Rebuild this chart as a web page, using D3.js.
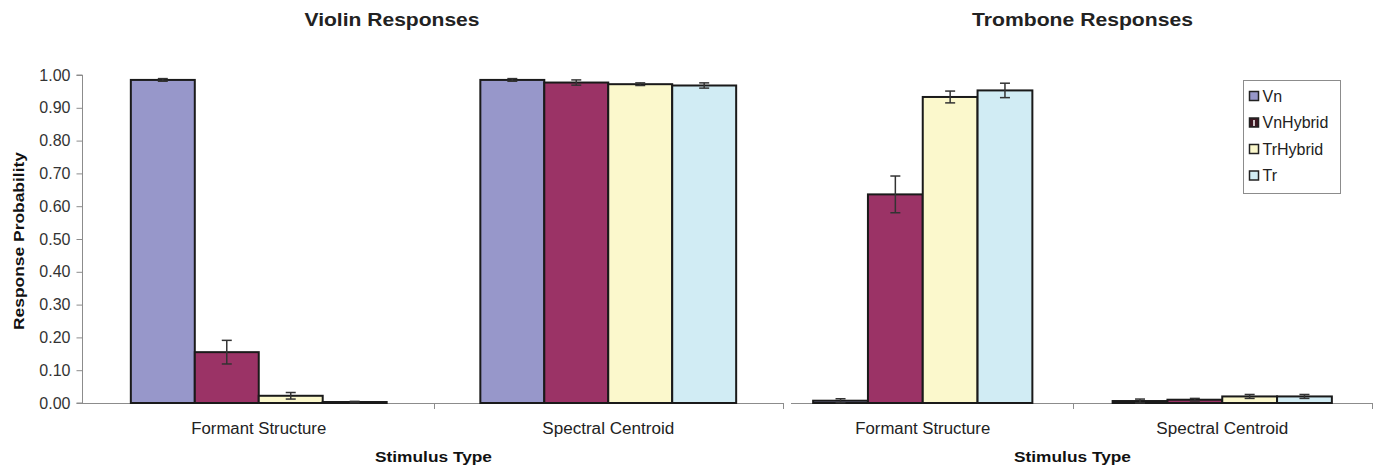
<!DOCTYPE html>
<html>
<head>
<meta charset="utf-8">
<script src="https://cdn.jsdelivr.net/npm/d3@7"></script>
<style>
  html, body { margin: 0; padding: 0; background: #fff; }
  svg { display: block; font-family: "Liberation Sans", Arial, sans-serif; }
</style>
</head>
<body>
<svg id="chart" width="1375" height="467"></svg>
<script>
// Stimulus categories and response series
const categories = ["Formant Structure", "Spectral Centroid"];
const seriesNames = ["Vn", "VnHybrid", "TrHybrid", "Tr"];
const seriesColors = ["#9797ca", "#9b3366", "#fbf8cc", "#d1ecf4"];
const yTicks = [0, 0.1, 0.2, 0.3, 0.4, 0.5, 0.6, 0.7, 0.8, 0.9, 1.0];

// Violin responses: mean response probability per category, per series
const violinValues = [
  [0.985, 0.155, 0.022, 0.003],
  [0.985, 0.977, 0.972, 0.968]
];
const violinErrors = [
  [0.004, 0.036, 0.010, 0.002],
  [0.004, 0.008, 0.004, 0.008]
];

// Trombone responses
const tromboneValues = [
  [0.007, 0.636, 0.933, 0.953],
  [0.006, 0.010, 0.020, 0.020]
];
const tromboneErrors = [
  [0.006, 0.056, 0.018, 0.022],
  [0.006, 0.004, 0.006, 0.006]
];

const svg = d3.select("#chart");

const y = d3.scaleLinear().domain([0, 1]).range([403, 75]);

// label widths of the stretched chart lettering
const catLabelWidth = { "Formant Structure": 135, "Spectral Centroid": 132 };

function drawPanel(opts) {
  const g = svg.append("g");
  const x0 = d3.scaleBand().domain(categories).range(opts.range).paddingInner(0).paddingOuter(0);
  const bw = x0.bandwidth();
  const frac = 0.732;
  const x1 = d3.scaleBand().domain(seriesNames)
    .range([bw * (1 - frac) / 2, bw * (1 + frac) / 2]).padding(0);

  // category axis
  g.append("line")
    .attr("x1", opts.axisStart).attr("x2", opts.range[1])
    .attr("y1", y(0) + 0.5).attr("y2", y(0) + 0.5)
    .attr("stroke", "#8c8c8c").attr("stroke-width", 1);
  const bounds = [];
  categories.forEach((c, i) => { if (i > 0) bounds.push(x0(c)); });
  bounds.push(opts.range[1]);
  g.selectAll(".xt").data(bounds).join("line")
    .attr("x1", d => Math.round(d) + 0.5).attr("x2", d => Math.round(d) + 0.5)
    .attr("y1", y(0)).attr("y2", y(0) + 6)
    .attr("stroke", "#8c8c8c");

  g.selectAll(".cat").data(categories).join("text")
    .attr("x", d => x0(d) + bw / 2 - catLabelWidth[d] / 2)
    .attr("y", 434)
    .attr("font-size", 16)
    .attr("textLength", d => catLabelWidth[d])
    .attr("lengthAdjust", "spacingAndGlyphs")
    .attr("fill", "#222")
    .text(d => d);

  // bars
  const groups = g.selectAll(".grp").data(categories).join("g")
    .attr("transform", d => `translate(${x0(d)},0)`);
  groups.each(function(cat, ci) {
    const gg = d3.select(this);
    const rows = seriesNames.map((s, si) => ({
      s, si, v: opts.values[ci][si], e: opts.errors[ci][si]
    }));
    gg.selectAll("rect").data(rows).join("rect")
      .attr("x", d => x1(d.s))
      .attr("y", d => y(d.v))
      .attr("width", x1.bandwidth())
      .attr("height", d => y(0) - y(d.v))
      .attr("fill", d => seriesColors[d.si])
      .attr("stroke", "#1a1a1a")
      .attr("stroke-width", 2);
    // error bars
    const eb = gg.selectAll(".eb").data(rows).join("g");
    const cx = d => x1(d.s) + x1.bandwidth() / 2;
    eb.append("line")
      .attr("x1", cx).attr("x2", cx)
      .attr("y1", d => y(d.v + d.e)).attr("y2", d => y(Math.max(0, d.v - d.e)))
      .attr("stroke", "#333").attr("stroke-width", 1.5);
    eb.append("line")
      .attr("x1", d => cx(d) - 5).attr("x2", d => cx(d) + 5)
      .attr("y1", d => y(d.v + d.e)).attr("y2", d => y(d.v + d.e))
      .attr("stroke", "#333").attr("stroke-width", 1.5);
    eb.append("line")
      .attr("x1", d => cx(d) - 5).attr("x2", d => cx(d) + 5)
      .attr("y1", d => y(Math.max(0, d.v - d.e))).attr("y2", d => y(Math.max(0, d.v - d.e)))
      .attr("stroke", "#333").attr("stroke-width", 1.5);
  });

  // panel title and x-axis title
  svg.append("text")
    .attr("x", opts.titleX - opts.titleW / 2).attr("y", 26)
    .attr("textLength", opts.titleW).attr("lengthAdjust", "spacingAndGlyphs")
    .attr("font-size", 18).attr("font-weight", "bold").attr("fill", "#222")
    .text(opts.title);
  const xCenter = (opts.range[0] + opts.range[1]) / 2;
  svg.append("text")
    .attr("x", xCenter - 58.5).attr("y", 462)
    .attr("textLength", 117).attr("lengthAdjust", "spacingAndGlyphs")
    .attr("font-size", 15).attr("font-weight", "bold").attr("fill", "#111")
    .text("Stimulus Type");
}

// Left value axis
const yAxis = d3.axisLeft(y).tickValues(yTicks).tickFormat(d3.format(".2f")).tickSize(6).tickPadding(6);
const ya = svg.append("g").attr("transform", "translate(82.5,0)").call(yAxis);
ya.select(".domain").attr("stroke", "#8c8c8c").attr("d", `M-6,${y(0)}H0V${y(1)}H-6`);
ya.selectAll(".tick line").attr("stroke", "#8c8c8c");
ya.selectAll(".tick text")
  .attr("font-size", 16).attr("fill", "#333")
  .attr("font-family", "Liberation Sans, Arial, sans-serif");

svg.append("text")
  .attr("transform", "translate(24,241) rotate(-90)")
  .attr("x", -89)
  .attr("textLength", 178).attr("lengthAdjust", "spacingAndGlyphs")
  .attr("font-size", 15).attr("font-weight", "bold").attr("fill", "#111")
  .text("Response Probability");

drawPanel({
  range: [84, 783], axisStart: 82,
  values: violinValues, errors: violinErrors,
  title: "Violin Responses", titleX: 392, titleW: 175
});

// small tick of the right panel's value axis
svg.append("line").attr("x1", 791).attr("x2", 797)
  .attr("y1", y(0) + 0.5).attr("y2", y(0) + 0.5).attr("stroke", "#8c8c8c");

drawPanel({
  range: [773, 1372], axisStart: 797,
  values: tromboneValues, errors: tromboneErrors,
  title: "Trombone Responses", titleX: 1082.5, titleW: 221
});

// Legend
const lg = svg.append("g").attr("transform", "translate(1243.5,80.5)");
lg.append("rect").attr("width", 97).attr("height", 113)
  .attr("fill", "#fff").attr("stroke", "#8c8c8c");
const legendSwatch = ["#9797ca", "#3e1822", "#fbf8cc", "#d1ecf4"];
const li = lg.selectAll(".li").data(seriesNames).join("g")
  .attr("transform", (d, i) => `translate(6,${11 + i * 26.5})`);
li.append("rect").attr("width", 9).attr("height", 9)
  .attr("fill", (d, i) => legendSwatch[i])
  .attr("stroke", "#222").attr("stroke-width", 1.5);
li.filter((d, i) => i === 1).append("line")
  .attr("x1", 4.5).attr("x2", 4.5).attr("y1", 2).attr("y2", 8)
  .attr("stroke", "#fff").attr("stroke-width", 1.5);
li.append("text").attr("x", 13).attr("y", 10)
  .attr("font-size", 16).attr("fill", "#222")
  .text(d => d);
</script>
</body>
</html>
